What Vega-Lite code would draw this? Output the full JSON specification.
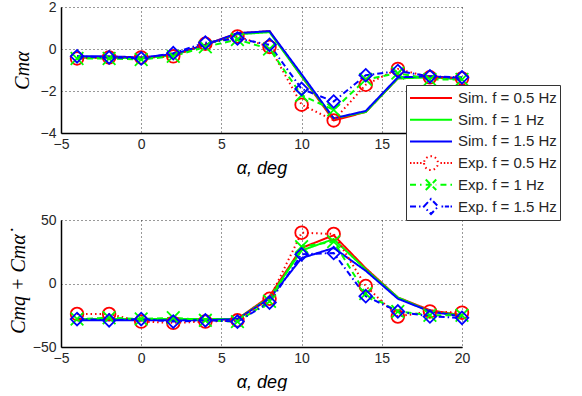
{
  "$schema": "https://vega.github.io/schema/vega-lite/v6.json",
  "padding": {"left": 8, "top": 0, "right": 0, "bottom": 0},
  "background": "white",
  "spacing": 87,
  "bounds": "flush",
  "datasets": {
    "top": [
      {"s": "Sim. f = 0.5 Hz", "a": -4, "v": -0.4}, {"s": "Sim. f = 0.5 Hz", "a": -2, "v": -0.4}, {"s": "Sim. f = 0.5 Hz", "a": 0, "v": -0.45}, {"s": "Sim. f = 0.5 Hz", "a": 2, "v": -0.3}, {"s": "Sim. f = 0.5 Hz", "a": 4, "v": 0.2}, {"s": "Sim. f = 0.5 Hz", "a": 6, "v": 0.75}, {"s": "Sim. f = 0.5 Hz", "a": 8, "v": 0.85}, {"s": "Sim. f = 0.5 Hz", "a": 10, "v": -1.3}, {"s": "Sim. f = 0.5 Hz", "a": 12, "v": -3.4}, {"s": "Sim. f = 0.5 Hz", "a": 14, "v": -3.0}, {"s": "Sim. f = 0.5 Hz", "a": 16, "v": -1.4}, {"s": "Sim. f = 0.5 Hz", "a": 18, "v": -1.3}, {"s": "Sim. f = 0.5 Hz", "a": 20, "v": -1.4},
      {"s": "Sim. f = 1 Hz", "a": -4, "v": -0.4}, {"s": "Sim. f = 1 Hz", "a": -2, "v": -0.4}, {"s": "Sim. f = 1 Hz", "a": 0, "v": -0.45}, {"s": "Sim. f = 1 Hz", "a": 2, "v": -0.3}, {"s": "Sim. f = 1 Hz", "a": 4, "v": 0.2}, {"s": "Sim. f = 1 Hz", "a": 6, "v": 0.7}, {"s": "Sim. f = 1 Hz", "a": 8, "v": 0.8}, {"s": "Sim. f = 1 Hz", "a": 10, "v": -1.3}, {"s": "Sim. f = 1 Hz", "a": 12, "v": -3.3}, {"s": "Sim. f = 1 Hz", "a": 14, "v": -3.0}, {"s": "Sim. f = 1 Hz", "a": 16, "v": -1.4}, {"s": "Sim. f = 1 Hz", "a": 18, "v": -1.35}, {"s": "Sim. f = 1 Hz", "a": 20, "v": -1.45},
      {"s": "Sim. f = 1.5 Hz", "a": -4, "v": -0.35}, {"s": "Sim. f = 1.5 Hz", "a": -2, "v": -0.35}, {"s": "Sim. f = 1.5 Hz", "a": 0, "v": -0.4}, {"s": "Sim. f = 1.5 Hz", "a": 2, "v": -0.25}, {"s": "Sim. f = 1.5 Hz", "a": 4, "v": 0.2}, {"s": "Sim. f = 1.5 Hz", "a": 6, "v": 0.75}, {"s": "Sim. f = 1.5 Hz", "a": 8, "v": 0.85}, {"s": "Sim. f = 1.5 Hz", "a": 10, "v": -1.2}, {"s": "Sim. f = 1.5 Hz", "a": 12, "v": -3.3}, {"s": "Sim. f = 1.5 Hz", "a": 14, "v": -2.95}, {"s": "Sim. f = 1.5 Hz", "a": 16, "v": -1.35}, {"s": "Sim. f = 1.5 Hz", "a": 18, "v": -1.3}, {"s": "Sim. f = 1.5 Hz", "a": 20, "v": -1.4},
      {"s": "Exp. f = 0.5 Hz", "a": -4, "v": -0.45}, {"s": "Exp. f = 0.5 Hz", "a": -2, "v": -0.4}, {"s": "Exp. f = 0.5 Hz", "a": 0, "v": -0.4}, {"s": "Exp. f = 0.5 Hz", "a": 2, "v": -0.35}, {"s": "Exp. f = 0.5 Hz", "a": 4, "v": 0.25}, {"s": "Exp. f = 0.5 Hz", "a": 6, "v": 0.6}, {"s": "Exp. f = 0.5 Hz", "a": 8, "v": 0.1}, {"s": "Exp. f = 0.5 Hz", "a": 10, "v": -2.65}, {"s": "Exp. f = 0.5 Hz", "a": 12, "v": -3.4}, {"s": "Exp. f = 0.5 Hz", "a": 14, "v": -1.7}, {"s": "Exp. f = 0.5 Hz", "a": 16, "v": -0.95}, {"s": "Exp. f = 0.5 Hz", "a": 18, "v": -1.35}, {"s": "Exp. f = 0.5 Hz", "a": 20, "v": -1.4},
      {"s": "Exp. f = 1 Hz", "a": -4, "v": -0.45}, {"s": "Exp. f = 1 Hz", "a": -2, "v": -0.45}, {"s": "Exp. f = 1 Hz", "a": 0, "v": -0.5}, {"s": "Exp. f = 1 Hz", "a": 2, "v": -0.35}, {"s": "Exp. f = 1 Hz", "a": 4, "v": 0.1}, {"s": "Exp. f = 1 Hz", "a": 6, "v": 0.45}, {"s": "Exp. f = 1 Hz", "a": 8, "v": 0.0}, {"s": "Exp. f = 1 Hz", "a": 10, "v": -2.2}, {"s": "Exp. f = 1 Hz", "a": 12, "v": -2.9}, {"s": "Exp. f = 1 Hz", "a": 14, "v": -1.45}, {"s": "Exp. f = 1 Hz", "a": 16, "v": -1.15}, {"s": "Exp. f = 1 Hz", "a": 18, "v": -1.45}, {"s": "Exp. f = 1 Hz", "a": 20, "v": -1.45},
      {"s": "Exp. f = 1.5 Hz", "a": -4, "v": -0.35}, {"s": "Exp. f = 1.5 Hz", "a": -2, "v": -0.4}, {"s": "Exp. f = 1.5 Hz", "a": 0, "v": -0.45}, {"s": "Exp. f = 1.5 Hz", "a": 2, "v": -0.2}, {"s": "Exp. f = 1.5 Hz", "a": 4, "v": 0.3}, {"s": "Exp. f = 1.5 Hz", "a": 6, "v": 0.5}, {"s": "Exp. f = 1.5 Hz", "a": 8, "v": 0.2}, {"s": "Exp. f = 1.5 Hz", "a": 10, "v": -1.9}, {"s": "Exp. f = 1.5 Hz", "a": 12, "v": -2.5}, {"s": "Exp. f = 1.5 Hz", "a": 14, "v": -1.25}, {"s": "Exp. f = 1.5 Hz", "a": 16, "v": -1.05}, {"s": "Exp. f = 1.5 Hz", "a": 18, "v": -1.3}, {"s": "Exp. f = 1.5 Hz", "a": 20, "v": -1.35}
    ],
    "bottom": [
      {"s": "Sim. f = 0.5 Hz", "a": -4, "v": -28}, {"s": "Sim. f = 0.5 Hz", "a": -2, "v": -28}, {"s": "Sim. f = 0.5 Hz", "a": 0, "v": -28}, {"s": "Sim. f = 0.5 Hz", "a": 2, "v": -28}, {"s": "Sim. f = 0.5 Hz", "a": 4, "v": -28}, {"s": "Sim. f = 0.5 Hz", "a": 6, "v": -28}, {"s": "Sim. f = 0.5 Hz", "a": 8, "v": -10}, {"s": "Sim. f = 0.5 Hz", "a": 10, "v": 28}, {"s": "Sim. f = 0.5 Hz", "a": 12, "v": 38}, {"s": "Sim. f = 0.5 Hz", "a": 14, "v": 12}, {"s": "Sim. f = 0.5 Hz", "a": 16, "v": -11}, {"s": "Sim. f = 0.5 Hz", "a": 18, "v": -21}, {"s": "Sim. f = 0.5 Hz", "a": 20, "v": -25},
      {"s": "Sim. f = 1 Hz", "a": -4, "v": -28}, {"s": "Sim. f = 1 Hz", "a": -2, "v": -28}, {"s": "Sim. f = 1 Hz", "a": 0, "v": -28}, {"s": "Sim. f = 1 Hz", "a": 2, "v": -28}, {"s": "Sim. f = 1 Hz", "a": 4, "v": -28}, {"s": "Sim. f = 1 Hz", "a": 6, "v": -28}, {"s": "Sim. f = 1 Hz", "a": 8, "v": -11}, {"s": "Sim. f = 1 Hz", "a": 10, "v": 26}, {"s": "Sim. f = 1 Hz", "a": 12, "v": 35}, {"s": "Sim. f = 1 Hz", "a": 14, "v": 11}, {"s": "Sim. f = 1 Hz", "a": 16, "v": -11}, {"s": "Sim. f = 1 Hz", "a": 18, "v": -22}, {"s": "Sim. f = 1 Hz", "a": 20, "v": -25},
      {"s": "Sim. f = 1.5 Hz", "a": -4, "v": -29}, {"s": "Sim. f = 1.5 Hz", "a": -2, "v": -29}, {"s": "Sim. f = 1.5 Hz", "a": 0, "v": -29}, {"s": "Sim. f = 1.5 Hz", "a": 2, "v": -29}, {"s": "Sim. f = 1.5 Hz", "a": 4, "v": -29}, {"s": "Sim. f = 1.5 Hz", "a": 6, "v": -28}, {"s": "Sim. f = 1.5 Hz", "a": 8, "v": -12}, {"s": "Sim. f = 1.5 Hz", "a": 10, "v": 20}, {"s": "Sim. f = 1.5 Hz", "a": 12, "v": 28}, {"s": "Sim. f = 1.5 Hz", "a": 14, "v": 10}, {"s": "Sim. f = 1.5 Hz", "a": 16, "v": -12}, {"s": "Sim. f = 1.5 Hz", "a": 18, "v": -22}, {"s": "Sim. f = 1.5 Hz", "a": 20, "v": -26},
      {"s": "Exp. f = 0.5 Hz", "a": -4, "v": -24}, {"s": "Exp. f = 0.5 Hz", "a": -2, "v": -24}, {"s": "Exp. f = 0.5 Hz", "a": 0, "v": -30}, {"s": "Exp. f = 0.5 Hz", "a": 2, "v": -31}, {"s": "Exp. f = 0.5 Hz", "a": 4, "v": -30}, {"s": "Exp. f = 0.5 Hz", "a": 6, "v": -29}, {"s": "Exp. f = 0.5 Hz", "a": 8, "v": -12}, {"s": "Exp. f = 0.5 Hz", "a": 10, "v": 40}, {"s": "Exp. f = 0.5 Hz", "a": 12, "v": 39}, {"s": "Exp. f = 0.5 Hz", "a": 14, "v": -2}, {"s": "Exp. f = 0.5 Hz", "a": 16, "v": -26}, {"s": "Exp. f = 0.5 Hz", "a": 18, "v": -22}, {"s": "Exp. f = 0.5 Hz", "a": 20, "v": -23},
      {"s": "Exp. f = 1 Hz", "a": -4, "v": -28}, {"s": "Exp. f = 1 Hz", "a": -2, "v": -27}, {"s": "Exp. f = 1 Hz", "a": 0, "v": -28}, {"s": "Exp. f = 1 Hz", "a": 2, "v": -27}, {"s": "Exp. f = 1 Hz", "a": 4, "v": -29}, {"s": "Exp. f = 1 Hz", "a": 6, "v": -30}, {"s": "Exp. f = 1 Hz", "a": 8, "v": -14}, {"s": "Exp. f = 1 Hz", "a": 10, "v": 29}, {"s": "Exp. f = 1 Hz", "a": 12, "v": 33}, {"s": "Exp. f = 1 Hz", "a": 14, "v": -8}, {"s": "Exp. f = 1 Hz", "a": 16, "v": -22}, {"s": "Exp. f = 1 Hz", "a": 18, "v": -25}, {"s": "Exp. f = 1 Hz", "a": 20, "v": -25},
      {"s": "Exp. f = 1.5 Hz", "a": -4, "v": -28}, {"s": "Exp. f = 1.5 Hz", "a": -2, "v": -29}, {"s": "Exp. f = 1.5 Hz", "a": 0, "v": -28}, {"s": "Exp. f = 1.5 Hz", "a": 2, "v": -30}, {"s": "Exp. f = 1.5 Hz", "a": 4, "v": -29}, {"s": "Exp. f = 1.5 Hz", "a": 6, "v": -30}, {"s": "Exp. f = 1.5 Hz", "a": 8, "v": -15}, {"s": "Exp. f = 1.5 Hz", "a": 10, "v": 23}, {"s": "Exp. f = 1.5 Hz", "a": 12, "v": 24}, {"s": "Exp. f = 1.5 Hz", "a": 14, "v": -10}, {"s": "Exp. f = 1.5 Hz", "a": 16, "v": -22}, {"s": "Exp. f = 1.5 Hz", "a": 18, "v": -26}, {"s": "Exp. f = 1.5 Hz", "a": 20, "v": -27}
    ]
  },
  "vconcat": [
    {
      "width": 401,
      "height": 126,
      "data": {"name": "top"},
      "layer": [
        {
          "mark": {"type": "line", "strokeWidth": 2},
          "encoding": {
            "x": {"field": "a", "type": "quantitative", "scale": {"domain": [-5, 20], "nice": false, "zero": false}, "axis": {"values": [-5, 0, 5, 10, 15, 20], "labelExpr": "datum.value == 20 ? '' : datum.label", "title": "α, deg"}},
            "y": {"field": "v", "type": "quantitative", "scale": {"domain": [-4, 2], "nice": false, "zero": false}, "axis": {"values": [-4, -2, 0, 2], "title": "Cmα", "titleFont": "Liberation Serif", "titleFontSize": 20, "titlePadding": 8}},
            "color": {
              "field": "s", "type": "nominal", "sort": null,
              "scale": {"domain": ["Sim. f = 0.5 Hz", "Sim. f = 1 Hz", "Sim. f = 1.5 Hz", "Exp. f = 0.5 Hz", "Exp. f = 1 Hz", "Exp. f = 1.5 Hz"], "range": ["#ff0000", "#00ff00", "#0000ff", "#ff0000", "#00ff00", "#0000ff"]},
              "legend": {
                "orient": "none",
                "legendX": 345,
                "legendY": 78,
                "title": null,
                "fillColor": "white",
                "strokeColor": "#333333",
                "padding": 3,
                "symbolSize": 1764,
                "symbolStrokeWidth": 2,
                "labelFont": "Liberation Sans",
                "labelFontSize": 15,
                "labelColor": "#262626",
                "labelLimit": 200,
                "labelOffset": 5,
                "clipHeight": 20,
                "rowPadding": 1.7,
                "encode": {
                  "symbols": {
                    "update": {
                      "fill": {"value": "transparent"},
                      "strokeDash": {"value": [1, 0]},
                      "shape": {"signal": "datum.value === 'Exp. f = 0.5 Hz' ? 'M-1,0h0.07M-0.84,0h0.07M-0.68,0h0.07M-0.52,0h0.07M0.45,0h0.07M0.61,0h0.07M0.77,0h0.07M0.93,0h0.07M-0.33,0A0.33,0.33,0,1,0,0.33,0A0.33,0.33,0,1,0,-0.33,0' : datum.value === 'Exp. f = 1 Hz' ? 'M-1,0H-0.45M-0.25,-0.25L0.25,0.25M-0.25,0.25L0.25,-0.25M-0.25,0H0.25M0.45,0H1' : datum.value === 'Exp. f = 1.5 Hz' ? 'M-1,0H-0.5M-0.34,0L0,-0.36L0.34,0L0,0.36ZM0.5,0h0.08M0.66,0H0.86M0.93,0h0.07' : 'M-1,0H1'"}
                    }
                  }
                }
              }
            },
            "strokeDash": {"field": "s", "type": "nominal", "legend": null, "scale": {"domain": ["Sim. f = 0.5 Hz", "Sim. f = 1 Hz", "Sim. f = 1.5 Hz", "Exp. f = 0.5 Hz", "Exp. f = 1 Hz", "Exp. f = 1.5 Hz"], "range": [[1, 0], [1, 0], [1, 0], [1.5, 3], [6, 4], [6, 3, 1.5, 3]]}}
          }
        },
        {
          "transform": [{"filter": "indexof(datum.s, 'Exp') == 0"}],
          "mark": {"type": "point", "filled": false, "strokeWidth": 1.8, "size": 160, "opacity": 1},
          "encoding": {
            "x": {"field": "a", "type": "quantitative"},
            "y": {"field": "v", "type": "quantitative"},
            "color": {"field": "s", "type": "nominal", "sort": null},
            "shape": {"field": "s", "type": "nominal", "legend": null, "scale": {"domain": ["Exp. f = 0.5 Hz", "Exp. f = 1 Hz", "Exp. f = 1.5 Hz"], "range": ["circle", "M-1,-1L1,1M-1,1L1,-1", "diamond"]}}
          }
        }
      ]
    },
    {
      "width": 401,
      "height": 127,
      "data": {"name": "bottom"},
      "layer": [
        {
          "mark": {"type": "line", "strokeWidth": 2},
          "encoding": {
            "x": {"field": "a", "type": "quantitative", "scale": {"domain": [-5, 20], "nice": false, "zero": false}, "axis": {"values": [-5, 0, 5, 10, 15, 20], "title": "α, deg"}},
            "y": {"field": "v", "type": "quantitative", "scale": {"domain": [-50, 50], "nice": false, "zero": false}, "axis": {"values": [-50, 0, 50], "title": "Cmq + Cmα̇", "titleFont": "Liberation Serif", "titleFontSize": 20, "titlePadding": 4}},
            "color": {"field": "s", "type": "nominal", "sort": null},
            "strokeDash": {"field": "s", "type": "nominal", "legend": null}
          }
        },
        {
          "transform": [{"filter": "indexof(datum.s, 'Exp') == 0"}],
          "mark": {"type": "point", "filled": false, "strokeWidth": 1.8, "size": 160, "opacity": 1},
          "encoding": {
            "x": {"field": "a", "type": "quantitative"},
            "y": {"field": "v", "type": "quantitative"},
            "color": {"field": "s", "type": "nominal", "sort": null},
            "shape": {"field": "s", "type": "nominal", "legend": null}
          }
        }
      ]
    }
  ],
  "resolve": {"scale": {"color": "shared", "strokeDash": "shared", "shape": "shared"}, "legend": {"color": "shared"}},
  "config": {
    "view": {"stroke": null},
    "font": "Liberation Sans",
    "axis": {
      "labelFont": "Liberation Sans",
      "labelFontSize": 14,
      "labelColor": "#262626",
      "domainColor": "#000000",
      "domainWidth": 1.5,
      "grid": true,
      "gridDash": [1, 3],
      "gridColor": "#333333",
      "gridOpacity": 1,
      "gridWidth": 1,
      "ticks": false,
      "labelPadding": 5,
      "titleFont": "Liberation Sans",
      "titleFontStyle": "italic",
      "titleFontWeight": "normal",
      "titleFontSize": 18,
      "titleColor": "#000000"
    },
    "axisX": {"titlePadding": 8, "labelPadding": 4, "labelFlush": false}
  }
}
